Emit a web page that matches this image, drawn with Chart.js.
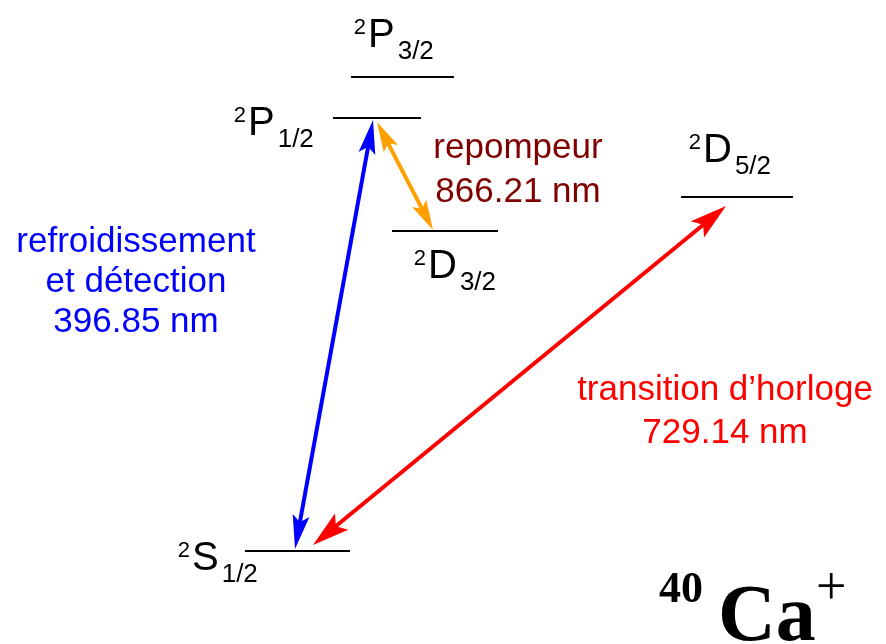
<!DOCTYPE html>
<html>
<head>
<meta charset="utf-8">
<script src="https://cdn.jsdelivr.net/npm/chart.js@4/dist/chart.umd.min.js"></script>
<style>
    html, body { margin: 0; padding: 0; background: #fff; }
    #diagram { display: block; }
</style>
</head>
<body>
<canvas id="diagram" width="886" height="644"></canvas>
<script>
// energy levels of 40Ca+ (x span of each level line, height of the level)
const levelTerm = ['S', 'P', 'P', 'D', 'D'];
const levelJ = ['1/2', '1/2', '3/2', '3/2', '5/2'];
const levelStart = [245, 333, 351, 392, 681];
const levelEnd = [350, 421, 454, 498, 793];
const levelEnergy = [93, 526, 567, 413, 447];

// transitions (lower and upper arrow tips)
const transLowerX = [295, 433, 313];
const transLowerY = [95, 414, 99];
const transUpperX = [373, 377, 726];
const transUpperY = [524, 522, 438];
const transText = [
    ['refroidissement', 'et détection', '396.85 nm'],
    ['repompeur', '866.21 nm'],
    ['transition d\u2019horloge', '729.14 nm'],
];

// where text goes (letter left / baseline, caption centre / first baseline)
const termPos = [[192, 74], [248, 509], [368, 597], [428, 366], [703, 482]];
const captionPos = [[136, 392], [518, 486], [725, 244]];
const captionGap = [40, 44, 43];
const transColor = ['#0000ff', '#ffa000', '#ff0000'];
const captionColor = ['#0000ff', '#800000', '#ff0000'];
const headLen = [34, 30, 37];
const headWidth = [17, 16, 21];

const SANS = '"Liberation Sans", Arial, sans-serif';
const SERIF = '"Liberation Serif", "Times New Roman", serif';

function shaft(i) {
    // shorten the line a bit at both ends so it stops inside the heads
    const dx = transUpperX[i] - transLowerX[i];
    const dy = transUpperY[i] - transLowerY[i];
    const len = Math.sqrt(dx * dx + dy * dy);
    const k = headLen[i] * 0.7 / len;
    return [
        {x: transLowerX[i] + dx * k, y: transLowerY[i] + dy * k},
        {x: transUpperX[i] - dx * k, y: transUpperY[i] - dy * k},
    ];
}

function drawHead(ctx, tx, ty, fx, fy, len, w, color) {
    const a = Math.atan2(ty - fy, tx - fx);
    ctx.save();
    ctx.translate(tx, ty);
    ctx.rotate(a);
    ctx.beginPath();
    ctx.moveTo(0, 0);
    ctx.lineTo(-len, w / 2);
    ctx.lineTo(-len * 0.8, 0);
    ctx.lineTo(-len, -w / 2);
    ctx.closePath();
    ctx.fillStyle = color;
    ctx.fill();
    ctx.restore();
}

function drawTerm(ctx, term, j, x, y) {
    ctx.fillStyle = '#000';
    ctx.textAlign = 'left';
    ctx.textBaseline = 'alphabetic';
    ctx.font = '40px ' + SANS;
    ctx.fillText(term, x, y);
    const w = ctx.measureText(term).width;
    ctx.font = '26px ' + SANS;
    ctx.fillText(j, x + w + 3, y + 12);
    ctx.font = '22px ' + SANS;
    ctx.textAlign = 'right';
    ctx.fillText('2', x - 2, y - 13);
}

const labelPlugin = {
    id: 'labels',
    afterDatasetsDraw(chart) {
        const ctx = chart.ctx;
        const sx = chart.scales.x;
        const sy = chart.scales.y;
        ctx.save();

        for (let i = 0; i < transColor.length; ++i) {
            const lx = sx.getPixelForValue(transLowerX[i]);
            const ly = sy.getPixelForValue(transLowerY[i]);
            const ux = sx.getPixelForValue(transUpperX[i]);
            const uy = sy.getPixelForValue(transUpperY[i]);
            drawHead(ctx, ux, uy, lx, ly, headLen[i], headWidth[i], transColor[i]);
            drawHead(ctx, lx, ly, ux, uy, headLen[i], headWidth[i], transColor[i]);
        }

        for (let i = 0; i < levelTerm.length; ++i) {
            drawTerm(ctx, levelTerm[i], levelJ[i],
                sx.getPixelForValue(termPos[i][0]),
                sy.getPixelForValue(termPos[i][1]));
        }

        ctx.font = '35px ' + SANS;
        ctx.textAlign = 'center';
        for (let i = 0; i < transText.length; ++i) {
            ctx.fillStyle = captionColor[i];
            transText[i].forEach(function(line, n) {
                ctx.fillText(line, sx.getPixelForValue(captionPos[i][0]),
                    sy.getPixelForValue(captionPos[i][1]) + n * captionGap[i]);
            });
        }

        // isotope name
        ctx.fillStyle = '#000';
        ctx.textAlign = 'left';
        ctx.font = 'bold 44px ' + SERIF;
        ctx.fillText('40', sx.getPixelForValue(659), sy.getPixelForValue(42));
        ctx.font = 'bold 80px ' + SERIF;
        ctx.fillText('Ca', sx.getPixelForValue(718), sy.getPixelForValue(4));
        ctx.font = '54px ' + SERIF;
        ctx.fillText('+', sx.getPixelForValue(816), sy.getPixelForValue(40));
        ctx.restore();
    }
};

const datasets = [];
for (let i = 0; i < levelTerm.length; ++i) {
    datasets.push({
        data: [{x: levelStart[i], y: levelEnergy[i]}, {x: levelEnd[i], y: levelEnergy[i]}],
        showLine: true,
        borderColor: '#000',
        borderWidth: 2.2,
        pointRadius: 0,
    });
}
for (let i = 0; i < transColor.length; ++i) {
    datasets.push({
        data: shaft(i),
        showLine: true,
        borderColor: transColor[i],
        borderWidth: 4,
        pointRadius: 0,
    });
}

new Chart(document.querySelector('#diagram').getContext('2d'), {
    type: 'scatter',
    data: {datasets: datasets},
    options: {
        animation: false,
        responsive: false,
        devicePixelRatio: 1,
        layout: {padding: 0},
        scales: {
            x: {display: false, min: 0, max: 886},
            y: {display: false, min: 0, max: 644},
        },
        plugins: {
            legend: {display: false},
            tooltip: {enabled: false},
        },
    },
    plugins: [labelPlugin],
});
</script>
</body>
</html>
